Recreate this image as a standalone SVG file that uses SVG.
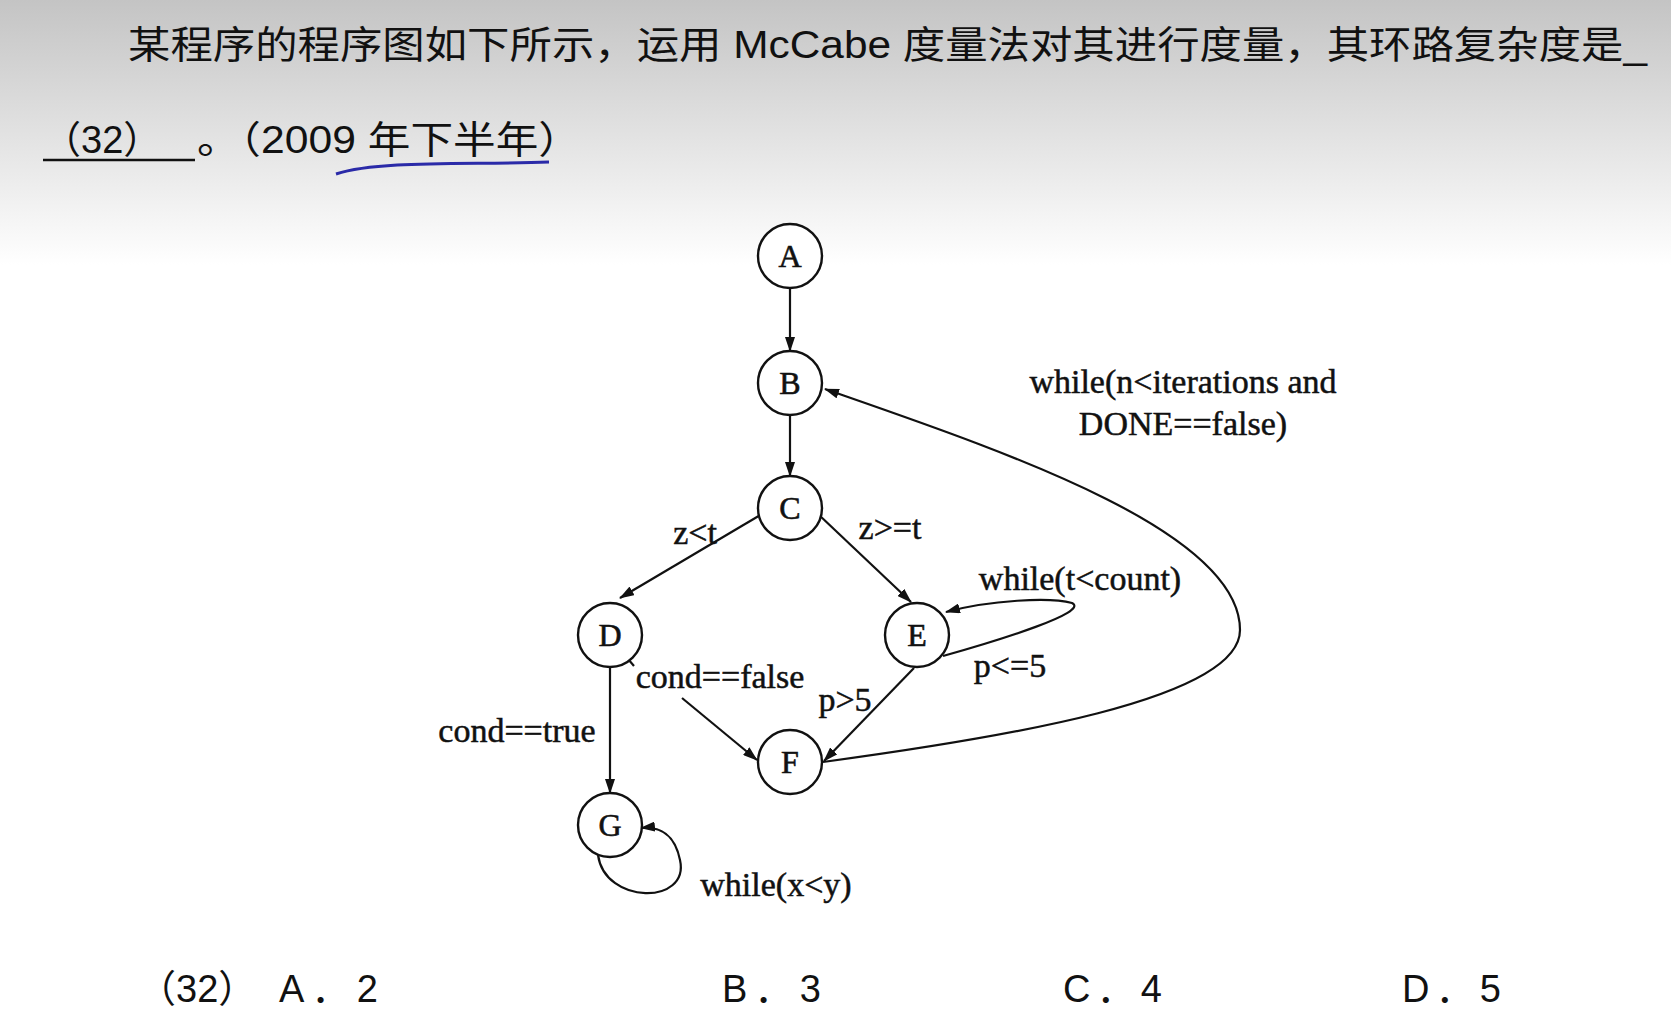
<svg xmlns="http://www.w3.org/2000/svg" width="1671" height="1033" viewBox="0 0 1671 1033">
<defs>
<linearGradient id="bg" x1="0" y1="0" x2="0" y2="1">
<stop offset="0" stop-color="#c4c4c4"/><stop offset="1" stop-color="#ffffff"/>
</linearGradient>
<marker id="ah" markerWidth="15" markerHeight="10" refX="14" refY="5" orient="auto" markerUnits="userSpaceOnUse">
<path d="M0,0 L15,5 L0,10 Z" fill="#111"/>
</marker>
</defs>
<style>
.t{font-family:"Liberation Sans","Noto Sans CJK SC",sans-serif;font-size:38px;fill:#111}
.n circle{fill:#fff;stroke:#111;stroke-width:2.4}
.n text{font-family:"Liberation Serif",serif;font-size:32px;text-anchor:middle;fill:#111;stroke:#111;stroke-width:0.6}
.l{font-family:"Liberation Serif",serif;font-size:34px;fill:#111;text-anchor:middle;stroke:#111;stroke-width:0.5}
.e{fill:none;stroke:#111;stroke-width:2.2}
</style>
<rect width="1671" height="1033" fill="#fff"/>
<rect width="1671" height="265" fill="url(#bg)"/>
<text class="t" x="128" y="58" textLength="1519" lengthAdjust="spacingAndGlyphs">某程序的程序图如下所示，运用 McCabe 度量法对其进行度量，其环路复杂度是_</text>
<text class="t" x="43" y="153">（32）</text>
<line x1="43" y1="160" x2="195" y2="160" stroke="#111" stroke-width="2.5"/>
<text class="t" x="197" y="153" textLength="384" lengthAdjust="spacingAndGlyphs">。（2009 年下半年）</text>
<path d="M336,174 C380,160 470,165 549,162" fill="none" stroke="#2a2aa8" stroke-width="3"/>
<g id="edges">
<line class="e" x1="790" y1="288" x2="790" y2="351" marker-end="url(#ah)"/>
<line class="e" x1="790" y1="415" x2="790" y2="476" marker-end="url(#ah)"/>
<line class="e" x1="762" y1="514" x2="620" y2="598" marker-end="url(#ah)"/>
<line class="e" x1="818" y1="514" x2="911" y2="602" marker-end="url(#ah)"/>
<line class="e" x1="610" y1="667" x2="610" y2="793" marker-end="url(#ah)"/>
<line class="e" x1="628" y1="659" x2="634" y2="666"/>
<line class="e" x1="682" y1="698" x2="757" y2="760" marker-end="url(#ah)"/>
<line class="e" x1="914" y1="668" x2="824" y2="761" marker-end="url(#ah)"/>
<path class="e" d="M943,656 C1000,640 1090,612 1072,603 C1050,597 990,600 946,612" marker-end="url(#ah)"/>
<path class="e" d="M823,762 C1000,738 1240,700 1240,630 C1240,530 1000,450 825,389" marker-end="url(#ah)"/>
<path class="e" d="M598,855 C605,905 690,905 680,860 C675,835 660,826 641,828" marker-end="url(#ah)"/>
</g>
<g id="A" class="n"><circle cx="790" cy="256" r="32"/><text x="790" y="267">A</text></g>
<g id="B" class="n"><circle cx="790" cy="383" r="32"/><text x="790" y="394">B</text></g>
<g id="C" class="n"><circle cx="790" cy="508" r="32"/><text x="790" y="519">C</text></g>
<g id="D" class="n"><circle cx="610" cy="635" r="32"/><text x="610" y="646">D</text></g>
<g id="E" class="n"><circle cx="917" cy="635" r="32"/><text x="917" y="646">E</text></g>
<g id="F" class="n"><circle cx="790" cy="762" r="32"/><text x="790" y="773">F</text></g>
<g id="G" class="n"><circle cx="610" cy="825" r="32"/><text x="610" y="836">G</text></g>
<g id="labels">
<text class="l" x="1183" y="393">while(n&lt;iterations and</text>
<text class="l" x="1183" y="435">DONE==false)</text>
<text class="l" x="695" y="544">z&lt;t</text>
<text class="l" x="890" y="539">z&gt;=t</text>
<text class="l" x="1080" y="590">while(t&lt;count)</text>
<text class="l" x="1010" y="677">p&lt;=5</text>
<text class="l" x="720" y="688">cond==false</text>
<text class="l" x="845" y="711">p&gt;5</text>
<text class="l" x="517" y="742">cond==true</text>
<text class="l" x="776" y="896">while(x&lt;y)</text>
</g>
<text class="t" x="138" y="1002">（32）</text>
<text class="t" x="279" y="1002" textLength="99" lengthAdjust="spacing">A．2</text>
<text class="t" x="722" y="1002" textLength="99" lengthAdjust="spacing">B．3</text>
<text class="t" x="1063" y="1002" textLength="99" lengthAdjust="spacing">C．4</text>
<text class="t" x="1402" y="1002" textLength="99" lengthAdjust="spacing">D．5</text>
</svg>
